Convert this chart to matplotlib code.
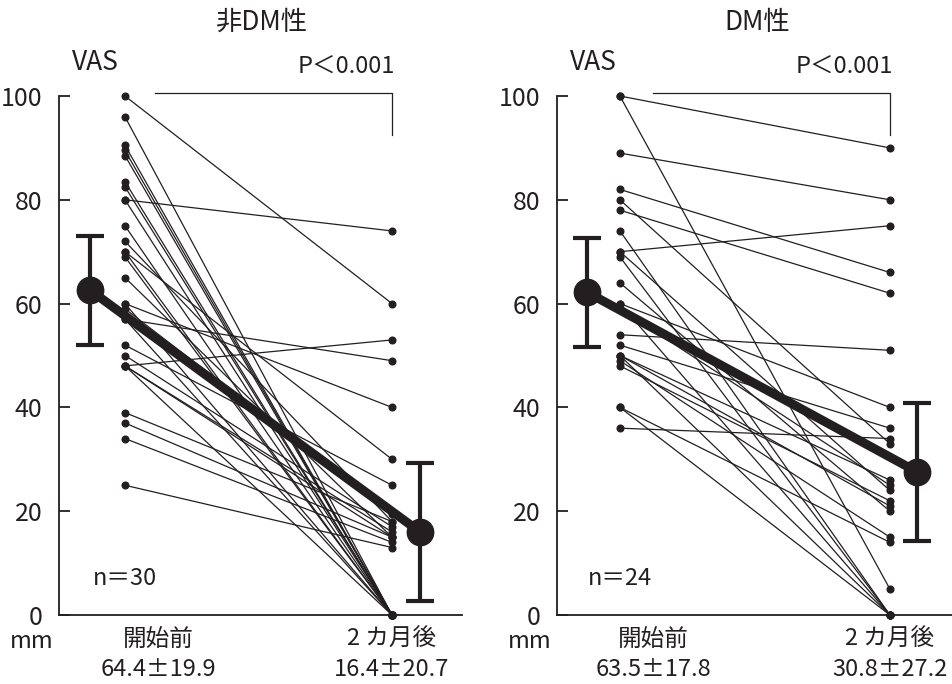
import matplotlib
matplotlib.use("Agg")
import matplotlib.pyplot as plt

plt.rcParams['font.family'] = ['Noto Sans CJK JP', 'DejaVu Sans']

INK = "#231f20"

# ----- data (VAS mm) -----
titles = ["非DM性", "DM性"]
n_labels = ["n＝30", "n＝24"]
before_stats = ["64.4±19.9", "63.5±17.8"]
after_stats = ["16.4±20.7", "30.8±27.2"]

nondm_before = [100, 96, 90.5, 89.5, 88.5, 83.5, 82.5, 80, 80, 75,
                72, 70, 70, 69, 65, 60, 60, 59, 57, 57,
                52, 50, 48, 48, 48, 48, 39, 37, 34, 25]
nondm_after = [60, 0, 0, 0, 0, 0, 0, 74, 0, 0,
               18, 0, 30, 0, 15, 40, 0, 19.5, 49, 0,
               25, 17, 53, 16, 15, 0, 18, 15, 14, 13]

dm_before = [100, 100, 89, 82, 80, 78, 74, 70, 70, 69,
             64, 60, 60, 59, 54, 52, 50, 50, 49, 48,
             40, 40, 36, 50]
dm_after = [90, 5, 80, 66, 33, 62, 0, 75, 24, 0,
            20, 40, 0, 25, 51, 36, 26, 21, 15, 22,
            14, 0, 34, 0]

# mean markers and error bars as drawn
nondm_mean = [62.6, 16.0]
nondm_err = [10.5, 13.3]
dm_mean = [62.2, 27.6]
dm_err = [10.5, 13.3]

yticks = [0, 20, 40, 60, 80, 100]

panels = [
    (nondm_before, nondm_after, nondm_mean, nondm_err),
    (dm_before, dm_after, dm_mean, dm_err),
]

fig = plt.figure(figsize=(9.52, 6.84), dpi=100)
W, H = 952, 684

ax_rects = [[59 / W, 69 / H, 403 / W, 519 / H],
            [557 / W, 69 / H, 395 / W, 519 / H]]
xlims = [(-0.247, 1.262), (-0.233, 1.23)]
mean_x = [(-0.131, 1.105), (-0.122, 1.10)]
title_x = [262, 757]
left_px = [59, 557]

for i, (bef, aft, mn, er) in enumerate(panels):
    ax = fig.add_axes(ax_rects[i])
    for b, a in zip(bef, aft):
        ax.plot([0, 1], [b, a], color=INK, lw=0.9, marker="o", ms=4.8,
                clip_on=False, zorder=2)
    ax.plot(mean_x[i], mn, color=INK, lw=6.5, zorder=3, solid_capstyle="butt")
    ax.errorbar(mean_x[i], mn, yerr=er, fmt="o", color=INK, ms=19,
                elinewidth=3, capsize=10, capthick=3, zorder=4, clip_on=False)

    ax.set_xlim(*xlims[i])
    ax.set_ylim(0, 100)
    ax.set_yticks(yticks)
    ax.set_xticks([])
    for s in ["top", "right"]:
        ax.spines[s].set_visible(False)
    for s in ["left", "bottom"]:
        ax.spines[s].set_color(INK)
        ax.spines[s].set_linewidth(1.3)
    ax.tick_params(axis="y", direction="in", length=8, width=1.3, colors=INK,
                   labelsize=18, pad=12)

    # significance bracket
    bx0 = 0.112 if i == 0 else 0.122
    ax.plot([bx0, 1.0, 1.0], [100.6, 100.6, 92.5], color=INK, lw=0.9,
            clip_on=False)
    ax.text(0.83, 103.5, "P＜0.001", fontsize=17, color=INK, ha="center",
            va="bottom", clip_on=False)

    ax.text(-0.12, 7, n_labels[i], fontsize=17, color=INK, ha="left",
            va="center")

    # category labels under axis
    ax.text(0.124, -2.5, "開始前", fontsize=17, color=INK, ha="center", va="top",
            clip_on=False)
    ax.text(0.124, -8.3, before_stats[i], fontsize=17, color=INK, ha="center",
            va="top", clip_on=False)
    ax.text(1.0, -2.5, "2 カ月後", fontsize=17, color=INK, ha="center", va="top",
            clip_on=False)
    ax.text(1.0, -8.3, after_stats[i], fontsize=17, color=INK, ha="center",
            va="top", clip_on=False)

    fig.text((left_px[i] - 27) / W, 1 - 642 / H, "mm", fontsize=17, color=INK,
             ha="center", va="center")
    fig.text((left_px[i] + 36) / W, 1 - 62 / H, "VAS", fontsize=19, color=INK,
             ha="center", va="center")
    fig.text(title_x[i] / W, 1 - 22 / H, titles[i], fontsize=19, color=INK,
             ha="center", va="center")

fig.savefig("out.png", dpi=100)
